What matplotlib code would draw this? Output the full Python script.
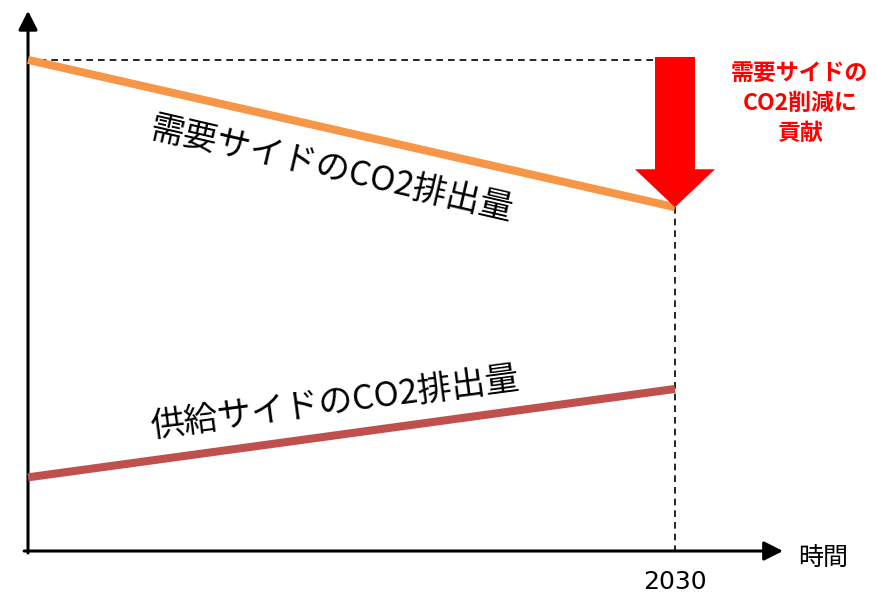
import matplotlib
matplotlib.use("Agg")
import matplotlib.pyplot as plt

plt.rcParams["font.family"] = ["Noto Sans CJK JP", "DejaVu Sans"]

# conceptual values (arbitrary units), time runs from "now" (0) to 2030 (1)
t = [0, 1]
demand = [100, 70]   # demand-side CO2 emissions
supply = [15, 33]    # supply-side CO2 emissions
x_tick_labels = ["2030"]
x_label = "時間"
demand_label = "需要サイドのCO2排出量"
supply_label = "供給サイドのCO2排出量"
note = "需要サイドの\nCO2削減に\n貢献"

C_DEMAND = "#F79646"
C_SUPPLY = "#C0504D"
C_ARROW = "#FF0000"

fig = plt.figure(figsize=(8.76, 5.93), dpi=100)
ax = fig.add_axes([0, 0, 1, 1])
ax.set_xlim(-0.0433, 1.3107)
ax.set_ylim(-8.55, 112.2)
ax.axis("off")

# axes with arrow heads
axis_style = dict(arrowstyle="-|>,head_length=1.15,head_width=0.58", color="black",
                  lw=2.2, mutation_scale=10, shrinkA=0, shrinkB=0)
ax.annotate("", xy=(0, 110), xytext=(0, -0.4), arrowprops=axis_style)
ax.annotate("", xy=(1.167, 0), xytext=(-0.006, 0), arrowprops=axis_style)

# guide lines
ax.plot([t[0], t[-1]], [demand[0], demand[0]], ls=(0, (4, 3)), color="black", lw=1.2, zorder=2)
ax.plot([t[-1], t[-1]], [demand[-1], 0], ls=(0, (4, 3)), color="black", lw=1.2, zorder=2)

# emission lines
ax.plot(t, demand, color=C_DEMAND, lw=5.8, solid_capstyle="butt", zorder=3)
ax.plot(t, supply, color=C_SUPPLY, lw=5.8, solid_capstyle="butt", zorder=3)

# reduction arrow
ax.annotate("", xy=(t[-1], demand[-1]), xytext=(t[-1], demand[0] + 0.6),
            arrowprops=dict(arrowstyle="simple,head_width=2.0,head_length=0.95,tail_width=1.0",
                            color=C_ARROW, mutation_scale=28.8, shrinkA=0, shrinkB=0, lw=0),
            zorder=4)

ax.text(0.47, 77.6, demand_label, fontsize=24.5, rotation=-13, rotation_mode="anchor",
        ha="center", va="center")
ax.text(0.475, 30.1, supply_label, fontsize=24.5, rotation=7.5, rotation_mode="anchor",
        ha="center", va="center")

ax.text(1.193, 91.2, note, fontsize=16.5, fontweight="bold", color=C_ARROW,
        ha="center", va="center", multialignment="center", linespacing=1.4)

ax.text(t[-1], -6.3, x_tick_labels[0], fontsize=18, family="DejaVu Sans",
        ha="center", va="center")
ax.text(1.229, -1.4, x_label, fontsize=18, ha="center", va="center")

fig.savefig("out.png", dpi=100)
